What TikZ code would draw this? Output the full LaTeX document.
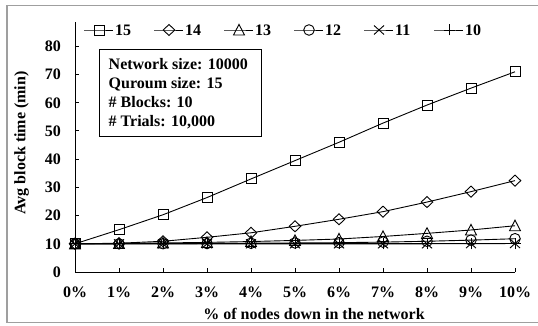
\documentclass[tikz,border=0pt]{standalone}
\usepackage{fontspec}
\setmainfont{Liberation Serif}
\pgfdeclareplotmark{msq}{\pgfpathrectangle{\pgfqpoint{-5pt}{-5pt}}{\pgfqpoint{10pt}{10pt}}\pgfusepathqstroke}
\pgfdeclareplotmark{mdia}{\pgfpathmoveto{\pgfqpoint{0pt}{5.5pt}}\pgfpathlineto{\pgfqpoint{5.8pt}{0pt}}\pgfpathlineto{\pgfqpoint{0pt}{-5.5pt}}\pgfpathlineto{\pgfqpoint{-5.8pt}{0pt}}\pgfpathclose\pgfusepathqstroke}
\pgfdeclareplotmark{mtri}{\pgfpathmoveto{\pgfqpoint{0pt}{5.6pt}}\pgfpathlineto{\pgfqpoint{5.5pt}{-5pt}}\pgfpathlineto{\pgfqpoint{-5.5pt}{-5pt}}\pgfpathclose\pgfusepathqstroke}
\pgfdeclareplotmark{mcirc}{\pgfpathcircle{\pgfpointorigin}{5.3pt}\pgfusepathqstroke}
\pgfdeclareplotmark{mx}{\pgfpathmoveto{\pgfqpoint{-5pt}{-4.5pt}}\pgfpathlineto{\pgfqpoint{5pt}{4.5pt}}\pgfpathmoveto{\pgfqpoint{-5pt}{4.5pt}}\pgfpathlineto{\pgfqpoint{5pt}{-4.5pt}}\pgfusepathqstroke}
\pgfdeclareplotmark{mplus}{\pgfpathmoveto{\pgfqpoint{-5.5pt}{0pt}}\pgfpathlineto{\pgfqpoint{5.5pt}{0pt}}\pgfpathmoveto{\pgfqpoint{0pt}{-5.5pt}}\pgfpathlineto{\pgfqpoint{0pt}{5.5pt}}\pgfusepathqstroke}
\tikzset{
  lbl/.style={font=\bfseries\fontsize{16}{19}\selectfont, inner sep=0pt},
  series/.style={line width=0.9pt, mark options={solid, line width=0.9pt}},
  axisline/.style={line width=1pt},
}
\begin{document}
\begin{tikzpicture}[x=1pt, y=-1pt]
\useasboundingbox (0,0) rectangle (538,326);
% outer frame
\draw[gray!75, line width=1.6pt] (540,5.5) -- (7,5.5) -- (7,322.5) -- (540,322.5);
% axes
\coordinate (O) at (75,272);
\coordinate (ytop) at (75,22.5);
\coordinate (xend) at (515,272);
\draw[axisline] (ytop) -- (O) -- (xend);
\foreach \v in {10,20,...,80} \draw[axisline] (75,{272-2.82*\v}) -- (79,{272-2.82*\v});
\foreach \p in {1,...,10} \draw[axisline] ({75+44*\p},272) -- ({75+44*\p},268);
\foreach \v in {0,10,...,80} \node[lbl, anchor=east] (yl\v) at (61,{272-2.82*\v}) {\v};
\foreach \p in {0,...,10} \node[lbl, anchor=base] (xl\p) at ({75+44*\p},297.5) {\p\%};
\node[lbl, anchor=base] (xtitle) at (314,319.5) {\% of nodes down in the network};
\node[lbl, rotate=90] (ytitle) at (21.5,143) {Avg block time (min)};
% info box
\node[draw, line width=1pt, minimum width=162pt, minimum height=86.5pt, anchor=north west, inner sep=0pt] (info) at (98.5,49.2) {};
\node[lbl, anchor=base west] (i1) at (108.5,70) {Network size: 10000};
\node[lbl, anchor=base west] (i2) at (108.5,89) {Quroum size: 15};
\node[lbl, anchor=base west] (i3) at (108.5,108) {\# Blocks: 10};
\node[lbl, anchor=base west] (i4) at (108.5,127) {\# Trials: 10,000};
% legend
\foreach \m/\k/\t in {msq/0/15, mdia/1/14, mtri/2/13, mcirc/3/12, mx/4/11, mplus/5/10}{
  \draw[series, mark=\m, mark indices={2}] plot coordinates {({84+70*\k},30) ({99+70*\k},30) ({113+70*\k},30)};
  \node[lbl, anchor=base west] (leg\t) at ({115+70*\k},35.5) {\t};
}
% data
\begin{scope}[shift={(75,272)}, x=44pt, y=2.82pt]
\draw[series, mark=mplus] plot coordinates {(0,10) (1,10) (2,10) (3,10) (4,10) (5,10) (6,10) (7,10) (8,10) (9,10) (10,10)};
\draw[series, mark=mx] plot coordinates {(0,10) (1,10) (2,10) (3,10) (4,10) (5,10) (6,10) (7,10) (8,10) (9,10.05) (10,10.1)};
\draw[series, mark=mcirc] plot coordinates {(0,10) (1,10) (2,10.05) (3,10.1) (4,10.2) (5,10.3) (6,10.4) (7,10.6) (8,10.9) (9,11.3) (10,11.8)};
\draw[series, mark=mtri] plot coordinates {(0,10) (1,10.1) (2,10.3) (3,10.5) (4,10.8) (5,11.2) (6,11.7) (7,12.6) (8,13.7) (9,14.9) (10,16.4)};
\draw[series, mark=mdia] plot coordinates {(0,10) (1,10.2) (2,10.9) (3,12.3) (4,13.9) (5,16.2) (6,18.7) (7,21.4) (8,24.8) (9,28.5) (10,32.4)};
\draw[series, mark=msq] plot coordinates {(0,10) (1,15) (2,20.3) (3,26.4) (4,33) (5,39.5) (6,46) (7,52.8) (8,59.2) (9,65.2) (10,71)};
\end{scope}
\end{tikzpicture}
\end{document}
